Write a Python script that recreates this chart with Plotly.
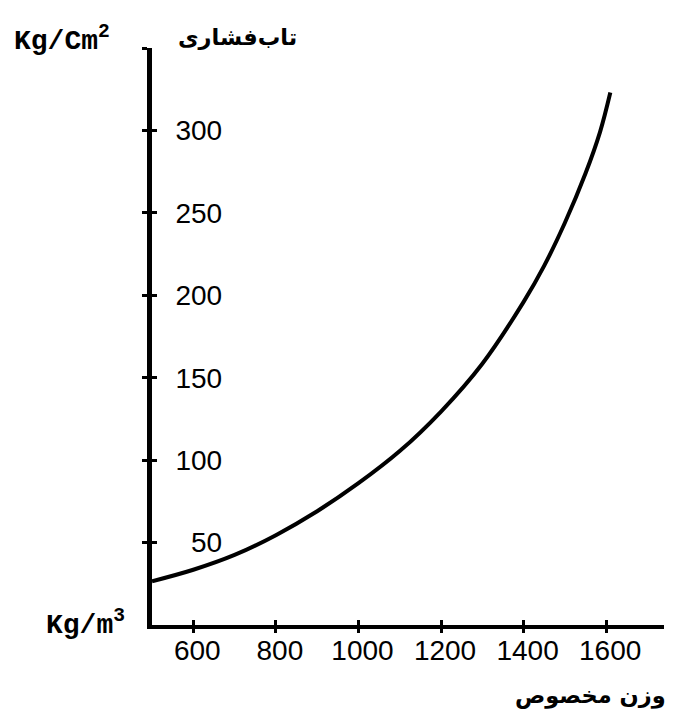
import plotly.graph_objects as go

# Data
density = [500, 600, 700, 800, 900, 1000, 1100, 1200, 1300, 1400, 1450, 1500, 1550, 1585, 1610]
strength = [26.5, 33.5, 42.5, 54.5, 69, 86, 105.5, 129.5, 158.5, 196, 218, 244, 274, 299, 323]

x_ticks = [600, 800, 1000, 1200, 1400, 1600]
x_tick_text = ["600", "800", "1000", "1200", "1400", "1600"]
y_ticks = [50, 100, 150, 200, 250, 300, 350]
y_tick_text = ["50", "100", "150", "200", "250", "300", ""]

x_range = [500, 1740]
y_range = [0, 350]

y_unit = "<b>Kg/Cm<sup>2</sup></b>"
y_title = "تاب‌فشاری"
x_unit = "<b>Kg/m<sup>3</sup></b>"
x_title = "وزن مخصوص"

num_font = dict(family="Liberation Sans, Arial, sans-serif", size=28, color="black")
unit_font = dict(family="Liberation Mono, Courier New, monospace", size=28, color="black")
fa_font = dict(family="DejaVu Sans, sans-serif", size=22.5, color="black")

fig = go.Figure()
fig.add_trace(go.Scatter(x=density, y=strength, mode="lines",
                         line=dict(color="black", width=4, shape="spline", smoothing=1.0),
                         hoverinfo="skip", showlegend=False))
# helper traces so overlay axes get drawn
fig.add_trace(go.Scatter(x=[None], y=[None], xaxis="x", yaxis="y2", showlegend=False))
fig.add_trace(go.Scatter(x=[None], y=[None], xaxis="x", yaxis="y3", showlegend=False))
fig.add_trace(go.Scatter(x=[None], y=[None], xaxis="x2", yaxis="y", showlegend=False))

fig.update_layout(
    width=680, height=710,
    margin=dict(l=152, r=16, t=48, b=85),
    paper_bgcolor="white", plot_bgcolor="white",
    showlegend=False,
    xaxis=dict(range=x_range, showgrid=False, zeroline=False,
               showline=True, linecolor="black", linewidth=4,
               tickmode="array", tickvals=x_ticks, ticktext=x_tick_text,
               ticks="outside", ticklen=4, tickwidth=3, tickcolor="black",
               tickfont=num_font, ticklabelshift=4, ticklabelstandoff=-7),
    xaxis2=dict(range=x_range, overlaying="x", anchor="y", side="bottom",
                showgrid=False, zeroline=False, showline=False,
                tickmode="array", tickvals=x_ticks, showticklabels=False,
                ticks="inside", ticklen=5, tickwidth=3, tickcolor="black"),
    yaxis=dict(range=y_range, showgrid=False, zeroline=False,
               showline=True, linecolor="black", linewidth=5,
               tickmode="array", tickvals=y_ticks, showticklabels=False,
               ticks="outside", ticklen=5, tickwidth=3, tickcolor="black"),
    yaxis3=dict(range=y_range, overlaying="y", anchor="x", side="left",
                showgrid=False, zeroline=False, showline=False,
                tickmode="array", tickvals=y_ticks, showticklabels=False,
                ticks="inside", ticklen=5, tickwidth=3, tickcolor="black"),
    yaxis2=dict(range=y_range, overlaying="y", anchor="free", position=0.137,
                side="left", showgrid=False, zeroline=False, showline=False,
                tickmode="array", tickvals=y_ticks, ticktext=y_tick_text,
                ticks="", tickfont=num_font),
)

fig.add_annotation(text=y_unit, xref="paper", yref="paper", x=-0.274, y=1.0155,
                   xanchor="left", yanchor="middle", showarrow=False, font=unit_font)
fig.add_annotation(text="<b>" + y_title + "</b>", xref="paper", yref="paper", x=0.0468, y=1.0195,
                   xanchor="left", yanchor="middle", showarrow=False, font=fa_font)
fig.add_annotation(text=x_unit, xref="paper", yref="paper", x=-0.0488, y=0.003,
                   xanchor="right", yanchor="middle", showarrow=False, font=unit_font)
fig.add_annotation(text="<b>" + x_title + "</b>", xref="paper", yref="paper", x=1.0078, y=-0.1223,
                   xanchor="right", yanchor="middle", showarrow=False, font=fa_font)

fig.write_html("out.html", config={"displayModeBar": False},
               post_script="document.body.style.margin='0px';")
